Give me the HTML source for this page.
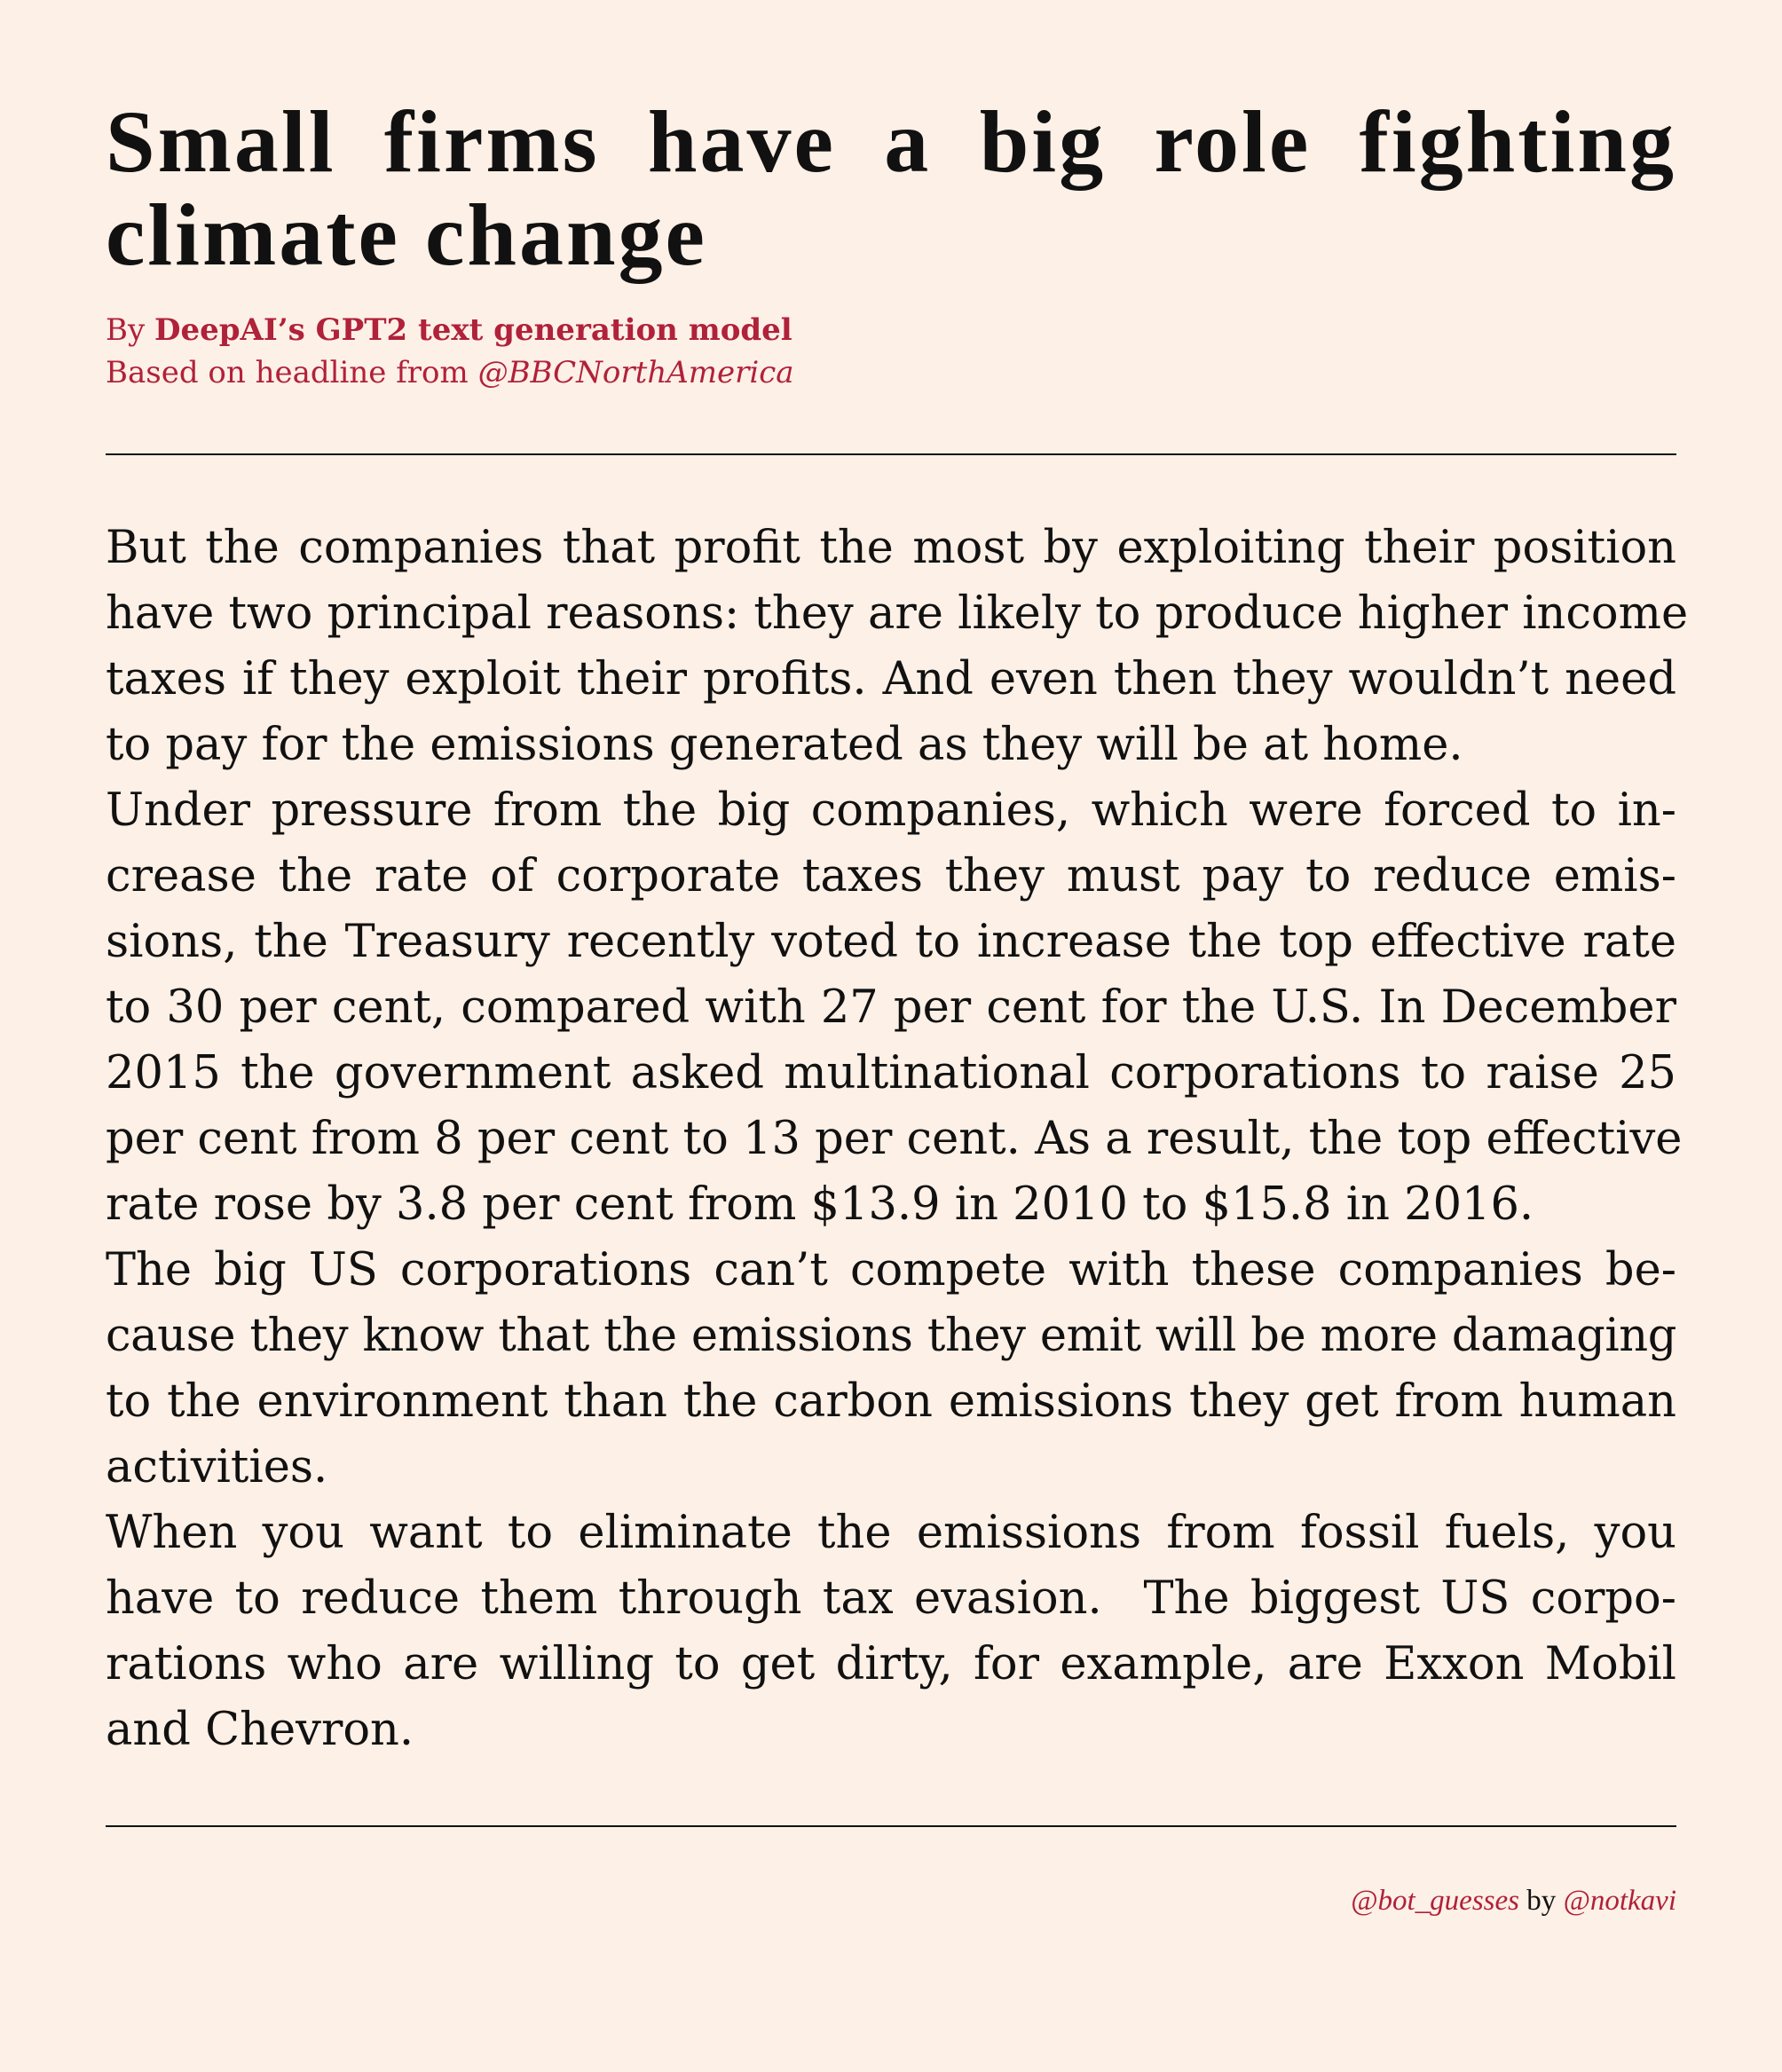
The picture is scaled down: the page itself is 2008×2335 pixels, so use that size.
<!DOCTYPE html>
<html>
<head>
<meta charset="utf-8">
<style>
  html, body { margin:0; padding:0; }
  body { width:2008px; height:2335px; background:#fdf0e6; position:relative; overflow:hidden;
         font-family:"Liberation Serif", serif; color:#111; }
  .title { position:absolute; left:119px; width:1770px; top:107px; font-size:100px; font-weight:bold; line-height:105px; letter-spacing:0.03em; }
  .ln { display:block; text-align:justify; text-align-last:justify; white-space:nowrap; }
  .last { text-align:left; text-align-last:left; }
  .byline { position:absolute; left:119px; top:348px; font-family:"DejaVu Serif", serif; font-size:34px; line-height:48px; color:#b0213a; }
  .rule { position:absolute; left:119px; width:1770px; height:2px; background:#111; }
  .body { position:absolute; left:119px; width:1770px; top:581px; font-family:"DejaVu Serif", serif; font-size:51px; line-height:74px; }
  .body .ln { height:74px; }
  .footer { position:absolute; right:119px; top:2118px; font-size:33px; line-height:48px; color:#111; }
  .red { color:#b0213a; }
</style>
</head>
<body>
<div class="title">
  <span class="ln" style="white-space:normal">Small firms have a big role fighting</span>
  <span class="ln last">climate change</span>
</div>
<div class="byline">
  <div>By <b>DeepAI’s GPT2 text generation model</b></div>
  <div>Based on headline from <i>@BBCNorthAmerica</i></div>
</div>
<div class="rule" style="top:511px"></div>
<div class="body">
  <span class="ln">But the companies that profit the most by exploiting their position</span>
  <span class="ln">have two principal reasons: they are likely to produce higher income</span>
  <span class="ln">taxes if they exploit their profits. And even then they wouldn’t need</span>
  <span class="ln last">to pay for the emissions generated as they will be at home.</span>
  <span class="ln">Under pressure from the big companies, which were forced to in-</span>
  <span class="ln">crease the rate of corporate taxes they must pay to reduce emis-</span>
  <span class="ln">sions, the Treasury recently voted to increase the top effective rate</span>
  <span class="ln">to 30 per cent, compared with 27 per cent for the U.S. In December</span>
  <span class="ln">2015 the government asked multinational corporations to raise 25</span>
  <span class="ln">per cent from 8 per cent to 13 per cent. As a result, the top effective</span>
  <span class="ln last">rate rose by 3.8 per cent from $13.9 in 2010 to $15.8 in 2016.</span>
  <span class="ln">The big US corporations can’t compete with these companies be-</span>
  <span class="ln" style="letter-spacing:-0.4px">cause they know that the emissions they emit will be more damaging</span>
  <span class="ln">to the environment than the carbon emissions they get from human</span>
  <span class="ln last">activities.</span>
  <span class="ln">When you want to eliminate the emissions from fossil fuels, you</span>
  <span class="ln">have to reduce them through tax evasion. &nbsp;The biggest US corpo-</span>
  <span class="ln">rations who are willing to get dirty, for example, are Exxon Mobil</span>
  <span class="ln last">and Chevron.</span>
</div>
<div class="rule" style="top:2057px"></div>
<div class="footer">
  <i class="red">@bot_guesses</i> by <i class="red">@notkavi</i>
</div>
</body>
</html>
